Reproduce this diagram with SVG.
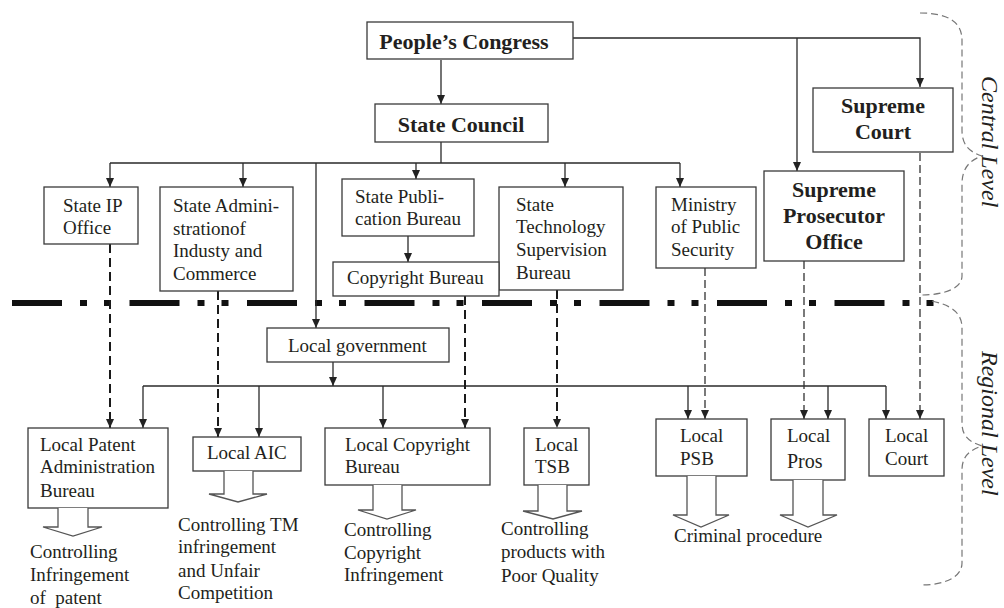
<svg xmlns="http://www.w3.org/2000/svg" width="1004" height="608" viewBox="0 0 1004 608">
<style>
.box{fill:#fff;stroke:#3a3a3a;stroke-width:1.3}
.t{font-family:"Liberation Serif","Times New Roman",serif;font-size:19px;fill:#231f20}
.b{font-family:"Liberation Serif","Times New Roman",serif;font-size:22px;font-weight:bold;fill:#231f20;text-anchor:middle}
.lvl{font-family:"Liberation Serif","Times New Roman",serif;font-size:24px;font-style:italic;fill:#231f20}
.solid{fill:none;stroke:#2a2a2a;stroke-width:1.3}
.dh{fill:none;stroke:#1a1a1a;stroke-width:2;stroke-dasharray:9 5}
.dl{fill:none;stroke:#333;stroke-width:1.3;stroke-dasharray:8 4}
.hollow{fill:#fff;stroke:#555;stroke-width:1.3}
.brace{fill:none;stroke:#777;stroke-width:1.2;stroke-dasharray:7 4}
</style>
<defs>
<marker id="ah" markerUnits="userSpaceOnUse" markerWidth="9" markerHeight="8" refX="9" refY="4" orient="auto">
<path d="M0,0 L9,4 L0,8 z" fill="#222"/>
</marker>
</defs>
<rect width="1004" height="608" fill="#fff"/>

<g id="level-divider">
<path d="M12,303 H934" stroke="#111" stroke-width="6" stroke-dasharray="50 18 7 17 7 18.5" fill="none"/>
</g>

<g id="braces">
<path class="brace" d="M920,13 C948,13 962,22 962,40 L962,130 C962,146 970,152 982,156 C970,160 962,168 962,184 L962,276 C962,288 945,295 921,295"/>
<path class="brace" d="M932,301 C950,305 962,312 962,328 L962,423 C962,437 970,442 982,446 C970,450 962,456 962,470 L962,563 C962,577 945,585 921,585"/>
<text class="lvl" transform="translate(982,76) rotate(90)">Central Level</text>
<text class="lvl" transform="translate(982,351) rotate(90)">Regional Level</text>
</g>

<g id="connectors">
<path class="solid" d="M441,60 V104" marker-end="url(#ah)"/>
<path class="solid" d="M573,38 H920 V87" marker-end="url(#ah)"/>
<path class="solid" d="M797,38 V171" marker-end="url(#ah)"/>
<path class="solid" d="M441,142 V163 M110,163 H680"/>
<path class="solid" d="M110,163 V187" marker-end="url(#ah)"/>
<path class="solid" d="M243,163 V187" marker-end="url(#ah)"/>
<path class="solid" d="M416,163 V179" marker-end="url(#ah)"/>
<path class="solid" d="M565,163 V187" marker-end="url(#ah)"/>
<path class="solid" d="M680,163 V187" marker-end="url(#ah)"/>
<path class="solid" d="M316,163 V328" marker-end="url(#ah)"/>
<path class="solid" d="M408,236 V262" marker-end="url(#ah)"/>
<path class="solid" d="M333,362 V386" marker-end="url(#ah)"/>
<path class="solid" d="M143,386 H886"/>
<path class="solid" d="M143,386 V428" marker-end="url(#ah)"/>
<path class="solid" d="M259,386 V437" marker-end="url(#ah)"/>
<path class="solid" d="M383,386 V428" marker-end="url(#ah)"/>
<path class="solid" d="M688,386 V419" marker-end="url(#ah)"/>
<path class="solid" d="M828,386 V419" marker-end="url(#ah)"/>
<path class="solid" d="M886,386 V419" marker-end="url(#ah)"/>
<path class="dh" d="M110,244 V428" marker-end="url(#ah)"/>
<path class="dh" d="M218,291 V437" marker-end="url(#ah)"/>
<path class="dh" d="M465,296 V428" marker-end="url(#ah)"/>
<path class="dh" d="M557,290 V428" marker-end="url(#ah)"/>
<path class="dl" d="M705,268 V419" marker-end="url(#ah)"/>
<path class="dl" d="M804,261 V419" marker-end="url(#ah)"/>
<path class="dl" d="M920,153 V419" marker-end="url(#ah)"/>
</g>

<g id="peoples-congress">
<rect class="box" x="367" y="22" width="206" height="37"/>
<text class="b" x="464" y="49">People’s Congress</text>
</g>
<g id="state-council">
<rect class="box" x="375" y="104" width="173" height="38"/>
<text class="b" x="461" y="132">State Council</text>
</g>
<g id="supreme-court">
<rect class="box" x="813" y="88" width="140" height="64"/>
<text class="b" x="883" y="113">Supreme</text>
<text class="b" x="883" y="139">Court</text>
</g>
<g id="supreme-prosecutor-office">
<rect class="box" x="764" y="171" width="140" height="90"/>
<text class="b" x="834" y="197">Supreme</text>
<text class="b" x="834" y="223">Prosecutor</text>
<text class="b" x="834" y="249">Office</text>
</g>
<g id="state-ip-office">
<rect class="box" x="44" y="187" width="94" height="57"/>
<text class="t" x="63" y="212">State IP</text>
<text class="t" x="63" y="234">Office</text>
</g>
<g id="state-admin-industry-commerce">
<rect class="box" x="160" y="187" width="133" height="104"/>
<text class="t" x="173" y="212">State Admini-</text>
<text class="t" x="173" y="235">strationof</text>
<text class="t" x="173" y="257">Industy and</text>
<text class="t" x="173" y="280">Commerce</text>
</g>
<g id="state-publication-bureau">
<rect class="box" x="342" y="179" width="132" height="57"/>
<text class="t" x="355" y="203">State Publi-</text>
<text class="t" x="355" y="225">cation Bureau</text>
</g>
<g id="state-technology-supervision-bureau">
<rect class="box" x="499" y="187" width="124" height="103"/>
<text class="t" x="516" y="211">State</text>
<text class="t" x="516" y="233">Technology</text>
<text class="t" x="516" y="256">Supervision</text>
<text class="t" x="516" y="279">Bureau</text>
</g>
<g id="copyright-bureau">
<rect class="box" x="333" y="262" width="166" height="34"/>
<text class="t" x="347" y="284">Copyright Bureau</text>
</g>
<g id="ministry-public-security">
<rect class="box" x="656" y="187" width="100" height="81"/>
<text class="t" x="671" y="211">Ministry</text>
<text class="t" x="671" y="233">of Public</text>
<text class="t" x="671" y="256">Security</text>
</g>
<g id="local-government">
<rect class="box" x="267" y="328" width="182" height="34"/>
<text class="t" x="288" y="352">Local government</text>
</g>

<g id="local-patent-administration-bureau">
<rect class="box" x="28" y="428" width="140" height="80"/>
<text class="t" x="40" y="451">Local Patent</text>
<text class="t" x="40" y="473">Administration</text>
<text class="t" x="40" y="497">Bureau</text>
<path class="hollow" d="M58,508 V527 H43 L73,536 L102,527 H88 V508"/>
<text class="t" x="30" y="558">Controlling</text>
<text class="t" x="30" y="581">Infringement</text>
<text class="t" x="30" y="604" xml:space="preserve">of  patent</text>
</g>
<g id="local-aic">
<rect class="box" x="193" y="437" width="108" height="34"/>
<text class="t" x="207" y="459">Local AIC</text>
<path class="hollow" d="M224,471 V494 H209 L238,502 L267,494 H253 V471"/>
<text class="t" x="178" y="531">Controlling TM</text>
<text class="t" x="178" y="553">infringement</text>
<text class="t" x="178" y="577">and Unfair</text>
<text class="t" x="178" y="599">Competition</text>
</g>
<g id="local-copyright-bureau">
<rect class="box" x="325" y="428" width="165" height="57"/>
<text class="t" x="345" y="451">Local Copyright</text>
<text class="t" x="345" y="473">Bureau</text>
<path class="hollow" d="M373,485 V510 H358 L387,519 L416,510 H402 V485"/>
<text class="t" x="344" y="536">Controlling</text>
<text class="t" x="344" y="559">Copyright</text>
<text class="t" x="344" y="581">Infringement</text>
</g>
<g id="local-tsb">
<rect class="box" x="524" y="428" width="65" height="57"/>
<text class="t" x="535" y="451">Local</text>
<text class="t" x="535" y="473">TSB</text>
<path class="hollow" d="M538,485 V511 H523 L553,519 L582,511 H567 V485"/>
<text class="t" x="501" y="535">Controlling</text>
<text class="t" x="501" y="558">products with</text>
<text class="t" x="501" y="582">Poor Quality</text>
</g>
<g id="local-psb">
<rect class="box" x="656" y="419" width="91" height="57"/>
<text class="t" x="680" y="442">Local</text>
<text class="t" x="680" y="465">PSB</text>
<path class="hollow" d="M687,476 V515 H673 L701,527 L729,515 H716 V476"/>
</g>
<g id="local-pros">
<rect class="box" x="771" y="419" width="74" height="61"/>
<text class="t" x="787" y="442">Local</text>
<text class="t" x="787" y="468" style="font-size:20px">Pros</text>
<path class="hollow" d="M793,480 V515 H780 L808,527 L837,515 H823 V480"/>
</g>
<g id="criminal-procedure">
<text class="t" x="674" y="542">Criminal procedure</text>
</g>
<g id="local-court">
<rect class="box" x="869" y="419" width="75" height="57"/>
<text class="t" x="885" y="442">Local</text>
<text class="t" x="885" y="465">Court</text>
</g>
</svg>
